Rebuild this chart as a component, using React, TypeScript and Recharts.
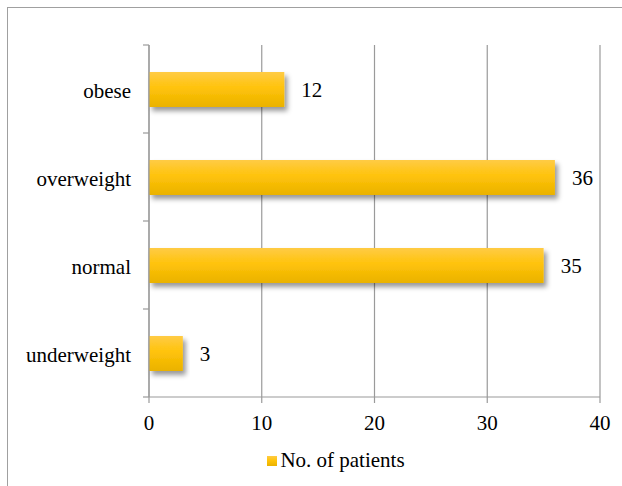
import React from "react";
import { BarChart, Bar, XAxis, YAxis, CartesianGrid, Legend, LabelList } from "recharts";

const categories = ["obese", "overweight", "normal", "underweight"];
const patients = [12, 36, 35, 3];
const xTicks = [0, 10, 20, 30, 40];
const seriesName = "No. of patients";

const data = categories.map((name, i) => ({ name, value: patients[i] }));

const FONT = "'Liberation Serif', 'Times New Roman', serif";
const FS = 21;
const AXIS = "#9a9a9a";

function ShadowBar(props: any) {
  const { x, y, width, height } = props;
  if (!width || width <= 0) return null;
  return <rect x={x} y={y} width={width} height={height} fill="url(#barGrad)" filter="url(#barShadow)" />;
}

// category label at band centre, tick mark at band edges (Excel style)
function CategoryTick(props: any) {
  const { x, y, payload, index, visibleTicksCount } = props;
  const half = payload?.offset || 44;
  const x1 = x + 12;
  const x2 = x + 18;
  const last = index === visibleTicksCount - 1;
  return (
    <g>
      <line x1={x1} x2={x2} y1={y - half} y2={y - half} stroke={AXIS} strokeWidth={1.2} />
      {last && <line x1={x1} x2={x2} y1={y + half} y2={y + half} stroke={AXIS} strokeWidth={1.2} />}
      <text x={x} y={y} dy="0.42em" textAnchor="end" fill="#000" fontSize={FS} fontFamily={FONT}>
        {payload.value}
      </text>
    </g>
  );
}

function LegendBox() {
  return (
    <div style={{ display: "flex", justifyContent: "center", alignItems: "center", paddingLeft: 50, fontFamily: FONT, fontSize: FS, color: "#000" }}>
      <span style={{ display: "inline-block", width: 10, height: 10, marginRight: 3, background: "linear-gradient(#ffcb45, #ffc30a 45%, #eab200)" }} />
      <span>{seriesName}</span>
    </div>
  );
}

export default function App() {
  return (
    <div style={{ position: "absolute", left: 0, top: 0, width: 622, height: 486, overflow: "hidden", background: "#fff" }}>
      <BarChart
        width={622}
        height={486}
        data={data}
        layout="vertical"
        barCategoryGap={0}
        margin={{ top: 45, right: 22, left: 0, bottom: 29 }}
        style={{ position: "absolute", left: 0, top: 0 }}
      >
        <defs>
          <linearGradient id="barGrad" x1="0" y1="0" x2="0" y2="1">
            <stop offset="0%" stopColor="#ffcb45" />
            <stop offset="45%" stopColor="#ffc30a" />
            <stop offset="100%" stopColor="#eab200" />
          </linearGradient>
          <filter id="barShadow" x="-10%" y="-20%" width="130%" height="160%">
            <feDropShadow dx="3" dy="4" stdDeviation="2.5" floodColor="#000" floodOpacity="0.4" />
          </filter>
        </defs>
        <CartesianGrid horizontal={false} stroke={AXIS} strokeWidth={1.2} />
        <XAxis
          type="number"
          domain={[0, 40]}
          ticks={xTicks}
          height={30}
          tickSize={6}
          tickMargin={12}
          axisLine={{ stroke: AXIS, strokeWidth: 1.2 }}
          tickLine={{ stroke: AXIS, strokeWidth: 1.2 }}
          tick={{ fill: "#000", fontSize: FS, fontFamily: FONT }}
        />
        <YAxis
          type="category"
          dataKey="name"
          width={149}
          tickSize={6}
          tickMargin={12}
          axisLine={{ stroke: AXIS, strokeWidth: 1.2 }}
          tickLine={false}
          tick={<CategoryTick />}
        />
        <Legend verticalAlign="bottom" height={30} wrapperStyle={{ bottom: 8, left: 0, width: 622 }} content={() => <LegendBox />} />
        <Bar dataKey="value" name={seriesName} barSize={35} shape={ShadowBar} isAnimationActive={false}>
          <LabelList dataKey="value" position="right" offset={17} fill="#000" fontSize={FS} fontFamily={FONT} />
        </Bar>
      </BarChart>
      <div style={{ position: "absolute", left: 7, top: 7, width: 700, height: 600, borderLeft: "1px solid #a0a0a0", borderTop: "1px solid #a0a0a0", pointerEvents: "none" }} />
    </div>
  );
}
